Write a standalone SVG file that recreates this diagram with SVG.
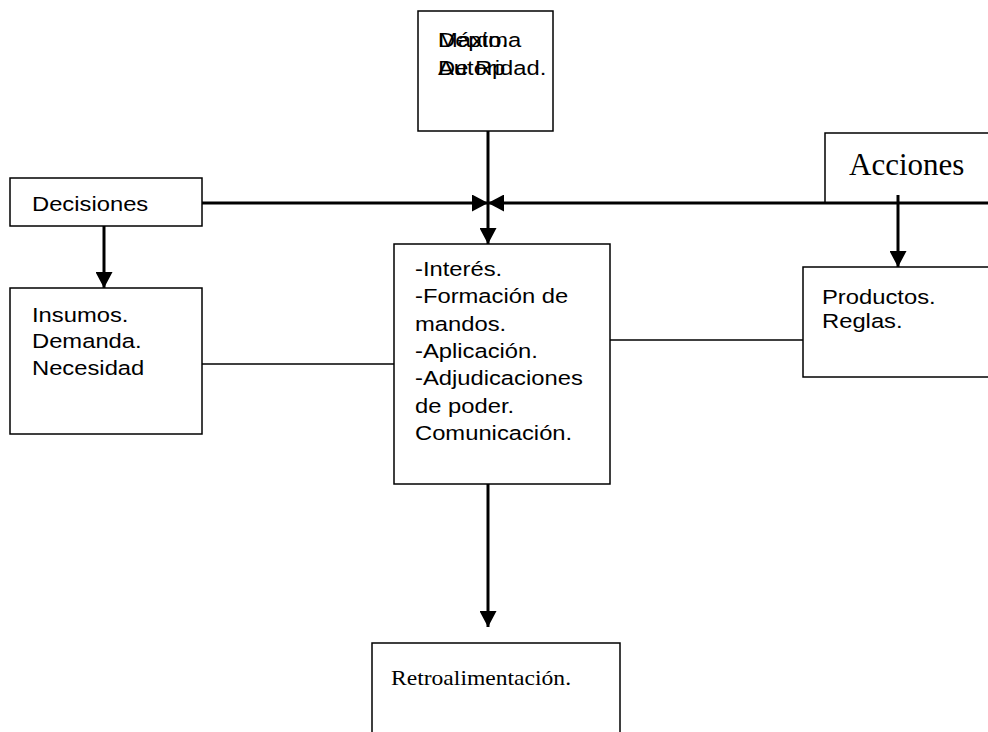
<svg xmlns="http://www.w3.org/2000/svg" width="988" height="732" viewBox="0 0 988 732">
<defs>
<marker id="ah" markerWidth="16" markerHeight="17" refX="16" refY="8.5" orient="auto" markerUnits="userSpaceOnUse" viewBox="0 0 16 17">
<path d="M0,0 L16,8.5 L0,17 Z" fill="#000"/>
</marker>
</defs>
<style>
.box{fill:#fff;stroke:#000;stroke-width:1.5}
.t{font-family:"Liberation Sans",Arial,sans-serif;font-size:20.5px;fill:#000}
.s{font-family:"Liberation Serif","Times New Roman",serif;fill:#000}
.ln{stroke:#000;stroke-width:1.5;fill:none}
.lb{stroke:#000;stroke-width:3;fill:none}
</style>
<g id="connectors">
<line class="lb" x1="488" y1="131" x2="488" y2="244" marker-end="url(#ah)"/>
<line class="lb" x1="202" y1="203" x2="488" y2="203" marker-end="url(#ah)"/>
<line class="lb" x1="825" y1="203" x2="488" y2="203" marker-end="url(#ah)"/>
<line class="lb" x1="104" y1="226" x2="104" y2="288" marker-end="url(#ah)"/>
<line class="lb" x1="898" y1="195" x2="898" y2="267" marker-end="url(#ah)"/>
<line class="lb" x1="488" y1="484" x2="488" y2="627" marker-end="url(#ah)"/>
<line class="ln" x1="202" y1="364" x2="394" y2="364"/>
<line class="ln" x1="610" y1="340" x2="803" y2="340"/>
</g>
<g id="n-top">
<rect class="box" x="418" y="11" width="135" height="120"/>
<g transform="matrix(1.16,0,0,1,-70.1,0)">
<text class="t" x="438" y="47">Máxima</text>
<text class="t" x="438" y="75">Autoridad.</text>
<text class="t" x="438" y="47">Depto.</text>
<text class="t" x="438" y="75">De Rp</text>
</g>
</g>
<g id="n-decisiones">
<rect class="box" x="10" y="178" width="192" height="48"/>
<g transform="matrix(1.16,0,0,1,-5.12,0)">
<text class="t" x="32" y="211">Decisiones</text>
</g>
</g>
<g id="n-acciones">
<path class="ln" d="M825,203 L825,133 L990,133"/>
<line class="lb" x1="825" y1="203" x2="990" y2="203"/>
<text class="s" x="849" y="175" font-size="31">Acciones</text>
</g>
<g id="n-insumos">
<rect class="box" x="10" y="288" width="192" height="146"/>
<g transform="matrix(1.16,0,0,1,-5.12,0)">
<text class="t" x="32" y="322">Insumos.</text>
<text class="t" x="32" y="348">Demanda.</text>
<text class="t" x="32" y="375">Necesidad</text>
</g>
</g>
<g id="n-centro">
<rect class="box" x="394" y="244" width="216" height="240"/>
<g transform="matrix(1.16,0,0,1,-66.4,0)">
<text class="t" x="415" y="276">-Interés.</text>
<text class="t" x="415" y="303">-Formación de</text>
<text class="t" x="415" y="331">mandos.</text>
<text class="t" x="415" y="358">-Aplicación.</text>
<text class="t" x="415" y="385">-Adjudicaciones</text>
<text class="t" x="415" y="413">de poder.</text>
<text class="t" x="415" y="440">Comunicación.</text>
</g>
</g>
<g id="n-productos">
<rect class="box" x="803" y="267" width="190" height="110"/>
<g transform="matrix(1.16,0,0,1,-131.5,0)">
<text class="t" x="822" y="304">Productos.</text>
<text class="t" x="822" y="328">Reglas.</text>
</g>
</g>
<g id="n-retro">
<rect class="box" x="372" y="643" width="248" height="97"/>
<g transform="matrix(1.18,0,0,1,-70.4,0)">
<text class="s" x="391" y="685" font-size="20">Retroalimentación.</text>
</g>
</g>
</svg>
